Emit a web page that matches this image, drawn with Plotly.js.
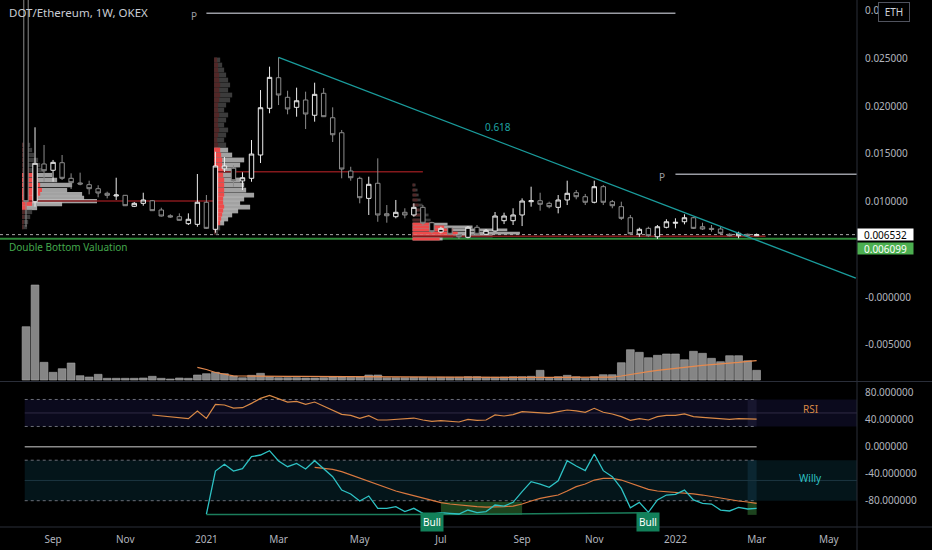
<!DOCTYPE html>
<html><head><meta charset="utf-8">
<script src="https://cdn.plot.ly/plotly-3.0.1.min.js"></script>
<style>html,body{margin:0;padding:0;background:#000;}#chart{width:932px;height:550px;}</style>
</head><body><div id="chart"></div>
<script>
// ---------- data ----------
const dates = ['2020-08-17','2020-08-24','2020-08-31','2020-09-07','2020-09-14','2020-09-21','2020-09-28','2020-10-05','2020-10-12','2020-10-19','2020-10-26','2020-11-02','2020-11-09','2020-11-16','2020-11-23','2020-11-30','2020-12-07','2020-12-14','2020-12-21','2020-12-28',
'2021-01-04','2021-01-11','2021-01-18','2021-01-25','2021-02-01','2021-02-08','2021-02-15','2021-02-22','2021-03-01','2021-03-08','2021-03-15','2021-03-22','2021-03-29','2021-04-05','2021-04-12','2021-04-19','2021-04-26','2021-05-03','2021-05-10','2021-05-17','2021-05-24','2021-05-31','2021-06-07','2021-06-14','2021-06-21','2021-06-28','2021-07-05','2021-07-12','2021-07-19','2021-07-26','2021-08-02','2021-08-09','2021-08-16','2021-08-23','2021-08-30','2021-09-06','2021-09-13','2021-09-20','2021-09-27','2021-10-04','2021-10-11','2021-10-18','2021-10-25','2021-11-01','2021-11-08','2021-11-15','2021-11-22','2021-11-29','2021-12-06','2021-12-13','2021-12-20','2021-12-27',
'2022-01-03','2022-01-10','2022-01-17','2022-01-24','2022-01-31','2022-02-07','2022-02-14','2022-02-21','2022-02-28','2022-03-07'];
const open = [0.03600,0.00998,0.01393,0.01327,0.01406,0.01243,0.01194,0.01176,0.01134,0.01086,0.01058,0.01065,0.00950,0.00981,0.01008,0.00911,0.00851,0.00841,0.00768,0.00761,0.00992,0.00709,0.01343,0.01348,0.01215,0.01243,0.01487,0.01976,0.02296,0.02091,0.01986,0.02063,0.01903,0.02133,0.01877,0.01720,0.01319,0.01243,0.01033,0.01191,0.00872,0.00841,0.00887,0.00859,0.00939,0.00778,0.00681,0.00726,0.00649,0.00625,0.00730,0.00657,0.00691,0.00799,0.00799,0.00859,0.00998,0.01008,0.00981,0.00939,0.01016,0.01092,0.01050,0.00992,0.01155,0.00998,0.00946,0.00830,0.00660,0.00719,0.00631,0.00730,0.00772,0.00788,0.00830,0.00736,0.00719,0.00712,0.00657,0.00642,0.00657,0.00642];
const high = [0.04000,0.01777,0.01592,0.01435,0.01487,0.01295,0.01302,0.01218,0.01170,0.01103,0.01249,0.01068,0.00995,0.01092,0.01016,0.00935,0.00866,0.00876,0.00876,0.01288,0.01068,0.01521,0.01466,0.01382,0.01306,0.01644,0.02167,0.02412,0.02510,0.02160,0.02192,0.02150,0.02244,0.02188,0.01986,0.01749,0.01364,0.01260,0.01260,0.01452,0.00963,0.01016,0.00929,0.00981,0.00963,0.00788,0.00736,0.00733,0.00657,0.00743,0.00754,0.00712,0.00890,0.00883,0.00929,0.01033,0.01155,0.01092,0.00998,0.01068,0.01218,0.01120,0.01079,0.01218,0.01173,0.01016,0.00998,0.00859,0.00726,0.00736,0.00754,0.00814,0.00824,0.00866,0.00838,0.00778,0.00754,0.00736,0.00667,0.00684,0.00663,0.00665];
const low = [0.00736,0.00946,0.01207,0.01207,0.01225,0.01131,0.01170,0.01075,0.01044,0.01033,0.01016,0.00953,0.00942,0.00956,0.00901,0.00843,0.00830,0.00799,0.00754,0.00736,0.00712,0.00673,0.01309,0.01155,0.01120,0.01207,0.01403,0.01924,0.02010,0.01913,0.01888,0.01759,0.01836,0.01885,0.01623,0.01243,0.01218,0.00981,0.00859,0.00788,0.00778,0.00824,0.00824,0.00841,0.00754,0.00667,0.00667,0.00649,0.00607,0.00615,0.00649,0.00649,0.00684,0.00764,0.00754,0.00743,0.00946,0.00904,0.00929,0.00876,0.00963,0.01023,0.00963,0.00981,0.00963,0.00929,0.00806,0.00649,0.00631,0.00631,0.00607,0.00719,0.00719,0.00761,0.00712,0.00702,0.00684,0.00649,0.00636,0.00615,0.00639,0.00639];
const close = [0.00998,0.01400,0.01322,0.01410,0.01243,0.01197,0.01183,0.01134,0.01089,0.01065,0.01068,0.00956,0.00981,0.01016,0.00904,0.00848,0.00838,0.00803,0.00814,0.00992,0.00719,0.01372,0.01372,0.01218,0.01249,0.01497,0.01982,0.02300,0.02115,0.01969,0.02055,0.01916,0.02122,0.01888,0.01699,0.01340,0.01249,0.01040,0.01180,0.00859,0.00851,0.00887,0.00859,0.00939,0.00772,0.00684,0.00719,0.00657,0.00631,0.00730,0.00657,0.00698,0.00848,0.00848,0.00859,0.01005,0.01008,0.00971,0.00946,0.01016,0.01086,0.01050,0.00992,0.01155,0.00992,0.00956,0.00824,0.00663,0.00709,0.00642,0.00736,0.00788,0.00782,0.00830,0.00719,0.00712,0.00709,0.00667,0.00642,0.00667,0.00646,0.006532];
const volume = [533,950,177,77,113,170,43,30,57,17,17,17,17,20,37,17,10,20,17,50,63,77,63,40,23,47,67,33,23,23,23,20,20,23,30,30,27,30,50,50,23,23,23,27,27,23,27,27,27,33,33,27,27,30,33,33,37,97,17,33,47,33,17,33,53,53,173,303,277,223,247,260,260,203,287,267,217,183,243,243,193,97];
const volMA = [127,105,75,57,42,40,38,37,37,36,36,36,36,36,36,36,35,35,34,34,33,33,33,33,32,32,31,30,29,28,27,27,26,26,26,25,25,25,26,26,26,26,27,27,27,27,28,40,56,73,84,96,107,118,130,140,147,154,160,168,176,186,193]; // from week 19
const rsi = [47,45.5,44.5,43.5,41.6,52.9,42,62.8,61.8,57.3,57.8,64.2,71.6,76.1,71.1,66.2,67.2,62.8,66.2,60.3,54.4,48,46.5,42,46,39.6,39.6,40.6,40.6,42.5,39.6,37.6,38.6,37.1,36.6,40.6,39.1,39.6,47,45.5,47.5,52,51.5,50.4,49.4,52,54.4,53,51,56.9,51,48.5,44.5,39.1,41.6,39.6,44.5,46.5,46.5,48.5,44.5,43.5,42.5,40.6,40.6,41.6,41,41]; // from week 14
const willy = [-100,-36,-26.1,-36,-32.5,-14.8,-12.3,-5.9,-21.2,-29.6,-24.7,-33,-20.7,-32,-44.4,-64.2,-70,-80.4,-73,-91.3,-91.3,-88.8,-96.2,-91.3,-98.7,-100,-97.7,-98.7,-99.7,-93.8,-97.7,-96.2,-86.4,-87.9,-82.4,-66.6,-51.8,-55.3,-60.2,-50.4,-20.7,-28.6,-35.5,-10.8,-35.5,-44.4,-61.7,-90.4,-82.4,-97.2,-78.9,-71.6,-70.6,-64.2,-78.9,-83.9,-84.9,-93.8,-95.2,-89.8,-92.3,-91.3]; // from week 20
const willySignal = [-30.6,-32,-33.5,-37,-41.9,-46.8,-50.8,-56.7,-61.7,-65.6,-69.1,-72.5,-76.5,-80,-82.9,-84.9,-86.4,-87.4,-88.9,-89.4,-89.4,-88.9,-87.9,-84.9,-80.4,-76.5,-74,-71.6,-65.6,-59.2,-55.3,-49.4,-46.9,-46.9,-49.4,-54.3,-58.3,-63.2,-65.6,-66.6,-67.6,-68.1,-70,-71.6,-74,-76.5,-78.9,-80.4,-81.9,-83.9]; // from week 32

const tickDates = ['2020-09-07','2020-11-02','2021-01-04','2021-03-01','2021-05-03','2021-07-05','2021-09-06','2021-11-01','2022-01-03','2022-03-07','2022-05-02'];
const tickText = ['Sep','Nov','2021','Mar','May','Jul','Sep','Nov','2022','Mar','May'];
const priceTicks = [0.03,0.025,0.02,0.015,0.01,0,-0.005];
const priceTickText = ['0.030000','0.025000','0.020000','0.015000','0.010000','-0.000000','-0.005000'];
const oscTicks = [80,40,0,-40,-80];
const oscTickText = ['80.000000','40.000000','0.000000','-40.000000','-80.000000'];

// volume profiles: price level, total length (weeks), red part length (weeks)
const prof1Start = '2020-08-14';
const prof1Price = [0.01592,0.01539,0.01487,0.01435,0.01382,0.01330,0.01277,0.01225,0.01173,0.01120,0.01078,0.01037,0.01005,0.00974,0.00932,0.00890,0.00838,0.00785,0.00733];
const prof1Total = [0.89,1.11,1.33,1.77,2.0,2.44,3.33,3.88,5.54,4.99,6.65,6.87,8.3,4.43,1.66,1.11,0.89,0.67,0.55];
const prof1Red = [0.3,0.35,0.4,0.5,0.6,0.8,1.33,1.77,2.0,2.2,2.0,1.77,1.55,1.1,0.5,0.3,0.25,0.2,0.15];
const prof2Start = '2021-01-10';
const prof2Price = [0.02482,0.02429,0.02377,0.02325,0.02272,0.02220,0.02167,0.02115,0.02063,0.02010,0.01958,0.01906,0.01853,0.01801,0.01749,0.01696,0.01644,0.01592,0.01539,0.01487,0.01435,0.01382,0.01330,0.01277,0.01225,0.01173,0.01120,0.01068,0.01026,0.00984,0.00942,0.00901,0.00859,0.00817,0.00775,0.00723,0.00681];
const prof2Total = [0.67,0.89,1.11,1.33,1.55,1.77,1.55,2.0,1.77,1.33,1.11,1.55,1.33,1.11,1.55,1.33,1.11,1.33,1.55,2.0,3.33,2.88,2.44,2.22,2.88,3.33,3.55,4.43,3.33,2.88,3.99,2.66,2.0,1.55,1.11,0.67,0.44];
const prof2Red = [0.33,0.44,0.44,0.55,0.55,0.67,0.55,0.67,0.55,0.44,0.44,0.55,0.44,0.44,0.55,0.44,0.33,0.44,0.67,0.78,0.89,0.89,1.0,1.0,1.11,1.11,1.11,1.11,1.0,1.0,1.11,1.0,0.89,0.78,0.67,0.33,0.22];
const prof3Start = '2021-06-13';
const prof3Price = [0.01173,0.01120,0.01068,0.01016,0.00963,0.00911,0.00859,0.00806,0.00764,0.00733,0.00702,0.00670,0.00639,0.00607];
const prof3Total = [0.33,0.55,0.67,0.89,1.11,1.33,1.77,2.0,3.88,6.65,10.5,11.9,8.87,3.33];
const prof3Red = [0.22,0.33,0.44,0.55,0.67,0.78,1.0,1.11,2.2,3.5,4.5,5.0,4.5,3.0];

const lastPrice = 0.006532;
const doubleBottom = 0.006099;
const trendDates = ['2021-03-01','2022-05-23'];
const trendPrices = [0.02510,0.00197];
const pLevel1 = 0.02971, pLevel2 = 0.01285;
const pocLevels = [0.01005,0.01312,0.00636];
const pocFrom = ['2020-08-14','2021-01-10','2021-06-13'];
const pocTo = ['2021-01-10','2021-06-21','2022-03-14'];
const bullDates = ['2021-06-28','2021-12-13'];
const divDates = ['2021-01-04','2021-06-28','2021-12-13'];
const divValues = [-100.5,-100.5,-98];

// ---------- layout helpers ----------
const xRange = ['2020-07-27 19:40','2022-05-23 21:36'];
const W = 7*864e5;
const PW = 857, PH = 527;
const px = v => v/PW, py = v => (PH - v)/PH;
const shapes = [];
function profile(start, prices, totals, reds, rowH, vaLo, vaHi){
  const t0 = Date.parse(start + 'T00:00:00Z');
  prices.forEach((p,i)=>{
    const va = p >= vaLo && p <= vaHi;
    shapes.push({type:'rect',xref:'x',yref:'y',layer:'below',x0:t0,x1:t0+totals[i]*W,y0:p-rowH/2,y1:p+rowH/2,
      fillcolor: va ? 'rgba(190,190,190,0.85)' : '#3b3b3b', line:{width:0}});
    shapes.push({type:'rect',xref:'x',yref:'y',layer:'below',x0:t0,x1:t0+reds[i]*W,y0:p-rowH/2,y1:p+rowH/2,
      fillcolor: va ? '#ee4a4a' : '#512727', line:{width:0}});
  });
}
profile(prof1Start, prof1Price, prof1Total, prof1Red, 0.00045, 0.0092, 0.0128);
profile(prof2Start, prof2Price, prof2Total, prof2Red, 0.0005, 0.0077, 0.0154);
profile(prof3Start, prof3Price, prof3Total, prof3Red, 0.00029, 0.0060, 0.0078);

// POC lines
pocLevels.forEach((lv,i)=>shapes.push({type:'line',xref:'x',yref:'y',layer:'below',x0:pocFrom[i],x1:pocTo[i],y0:lv,y1:lv,line:{color:'#84191c',width:1.5}}));
// P lines
shapes.push({type:'line',xref:'x',yref:'y',layer:'below',x0:'2021-01-04',x1:'2022-01-03',y0:pLevel1,y1:pLevel1,line:{color:'#9a9ca3',width:1.5}});
shapes.push({type:'line',xref:'x',yref:'y',layer:'below',x0:'2022-01-03',x1:xRange[1],y0:pLevel2,y1:pLevel2,line:{color:'#9a9ca3',width:1.5}});
// last price dotted & double bottom line
shapes.push({type:'line',xref:'paper',yref:'y',layer:'below',x0:0,x1:1,y0:lastPrice,y1:lastPrice,line:{color:'#a8a8a8',width:1,dash:'dot'}});
shapes.push({type:'line',xref:'paper',yref:'y',layer:'below',x0:0,x1:1,y0:doubleBottom,y1:doubleBottom,line:{color:'#2f8a3a',width:2}});
// trendline
shapes.push({type:'line',xref:'x',yref:'y',x0:trendDates[0],x1:trendDates[1],y0:trendPrices[0],y1:trendPrices[1],line:{color:'#1a9c9c',width:1.3}});

// oscillator pane backgrounds
const bandStart = '2020-08-16', lastBar = '2022-03-07', prevBar = '2022-02-28';
shapes.push({type:'rect',xref:'x2',yref:'y2',layer:'below',x0:bandStart,x1:xRange[1],y0:30,y1:70,fillcolor:'#0b0a1d',line:{width:0}});
shapes.push({type:'rect',xref:'x2',yref:'y2',layer:'below',x0:bandStart,x1:xRange[1],y0:-80,y1:-20,fillcolor:'#04151a',line:{width:0}});
shapes.push({type:'rect',xref:'x2',yref:'y2',layer:'below',x0:prevBar,x1:lastBar,y0:30,y1:70,fillcolor:'#17162e',line:{width:0}});
shapes.push({type:'rect',xref:'x2',yref:'y2',layer:'below',x0:prevBar,x1:lastBar,y0:-80,y1:-20,fillcolor:'#0b2631',line:{width:0}});
shapes.push({type:'rect',xref:'x2',yref:'y2',layer:'below',x0:'2021-07-05',x1:'2021-09-06',y0:-101,y1:-81.5,fillcolor:'rgba(76,175,80,0.38)',line:{width:0}});
shapes.push({type:'rect',xref:'x2',yref:'y2',layer:'below',x0:prevBar,x1:lastBar,y0:-101,y1:-81.5,fillcolor:'rgba(76,175,80,0.38)',line:{width:0}});
[50,-50].forEach(v=>shapes.push({type:'line',xref:'x2',yref:'y2',layer:'below',x0:bandStart,x1:xRange[1],y0:v,y1:v,line:{color: v>0?'#2e2b45':'#1c3640',width:1}}));
[70,30,-20,-80].forEach(v=>shapes.push({type:'line',xref:'x2',yref:'y2',layer:'below',x0:bandStart,x1:lastBar,y0:v,y1:v,line:{color:'#6b6e78',width:1,dash:'dot'}}));
shapes.push({type:'line',xref:'x2',yref:'y2',layer:'below',x0:bandStart,x1:lastBar,y0:0,y1:0,line:{color:'#8a8a8a',width:1.5}});
// pane frame lines
shapes.push({type:'line',xref:'paper',yref:'paper',x0:0,x1:932/PW,y0:py(381.5),y1:py(381.5),line:{color:'#2a2e39',width:1}});
shapes.push({type:'line',xref:'paper',yref:'paper',x0:0,x1:932/PW,y0:0,y1:0,line:{color:'#2a2e39',width:1}});
shapes.push({type:'line',xref:'paper',yref:'paper',x0:1,x1:1,y0:-23/PH,y1:1,line:{color:'#2a2e39',width:1}});

const font = 'Noto Sans, sans-serif';
const ann = [];
ann.push({xref:'paper',yref:'paper',x:px(7),y:py(13),xanchor:'left',yanchor:'middle',text:'DOT/Ethereum, 1W, OKEX',showarrow:false,font:{size:11.5,color:'#c9ccd3',family:font}});
ann.push({xref:'paper',yref:'paper',x:px(194),y:py(16),xanchor:'center',yanchor:'middle',text:'P',showarrow:false,font:{size:10,color:'#9a9ca3',family:font}});
ann.push({xref:'paper',yref:'paper',x:px(662),y:py(177),xanchor:'center',yanchor:'middle',text:'P',showarrow:false,font:{size:10,color:'#9a9ca3',family:font}});
ann.push({xref:'paper',yref:'paper',x:px(498),y:py(127),xanchor:'center',yanchor:'middle',text:'0.618',showarrow:false,font:{size:10,color:'#1fa5a5',family:font}});
ann.push({xref:'paper',yref:'paper',x:px(7),y:py(247),xanchor:'left',yanchor:'middle',text:'Double Bottom Valuation',showarrow:false,font:{size:10,color:'#43a84d',family:font}});
ann.push({xref:'paper',yref:'paper',x:px(810),y:py(409),xanchor:'center',yanchor:'middle',text:'RSI',showarrow:false,font:{size:10,color:'#d98946',family:font}});
ann.push({xref:'paper',yref:'paper',x:px(810),y:py(478),xanchor:'center',yanchor:'middle',text:'Willy',showarrow:false,font:{size:10,color:'#2ec2c4',family:font}});
bullDates.forEach(d=>ann.push({xref:'x2',yref:'y2',x:d,y:-111.5,xanchor:'center',yanchor:'middle',text:'Bull',showarrow:false,bgcolor:'#12805a',borderpad:2,font:{size:10,color:'#ffffff',family:font}}));
ann.push({xref:'paper',yref:'paper',x:px(894),y:py(11.5),xanchor:'center',yanchor:'middle',text:'ETH',showarrow:false,bgcolor:'#000000',bordercolor:'#50535e',borderwidth:1,borderpad:2,width:26,font:{size:10,color:'#d1d4dc',family:font}});
ann.push({xref:'paper',yref:'y',x:1,y:lastPrice,xanchor:'left',yanchor:'middle',text:String(lastPrice),showarrow:false,bgcolor:'#ffffff',width:55,height:11,borderpad:0,font:{size:10,color:'#000000',family:font}});
ann.push({xref:'paper',yref:'y',x:1,y:doubleBottom,yshift:-10,xanchor:'left',yanchor:'middle',text:String(doubleBottom),showarrow:false,bgcolor:'#4caf50',width:55,height:11,borderpad:0,font:{size:10,color:'#ffffff',family:font}});

const traces = [
  {type:'bar',x:dates,y:volume,xaxis:'x',yaxis:'y3',width:0.86*W,marker:{color:'rgba(140,140,140,0.95)',line:{color:'#a9a9a9',width:0.6}},hoverinfo:'skip'},
  {type:'scatter',mode:'lines',x:dates.slice(19),y:volMA,xaxis:'x',yaxis:'y3',line:{color:'#e68a4f',width:1.2},hoverinfo:'skip'},
  {type:'candlestick',x:dates,open:open,high:high,low:low,close:close,xaxis:'x',yaxis:'y',
    increasing:{line:{color:'#ececec',width:1},fillcolor:'#000000'},
    decreasing:{line:{color:'#8c8c8c',width:1},fillcolor:'#000000'},whiskerwidth:0,hoverinfo:'skip'},
  {type:'scatter',mode:'lines',x:dates.slice(14),y:rsi,xaxis:'x2',yaxis:'y2',line:{color:'#d98946',width:1.2},hoverinfo:'skip'},
  {type:'scatter',mode:'lines',x:divDates,y:divValues,xaxis:'x2',yaxis:'y2',line:{color:'#1b7d5b',width:1.5},hoverinfo:'skip'},
  {type:'scatter',mode:'lines',x:dates.slice(32),y:willySignal,xaxis:'x2',yaxis:'y2',line:{color:'#d9783f',width:1.2},hoverinfo:'skip'},
  {type:'scatter',mode:'lines',x:dates.slice(20),y:willy,xaxis:'x2',yaxis:'y2',line:{color:'#2ec2c4',width:1.3},hoverinfo:'skip'}
];

const layout = {
  width:932,height:550,paper_bgcolor:'#000000',plot_bgcolor:'#000000',
  margin:{l:0,r:75,t:0,b:23},showlegend:false,
  font:{family:font,color:'#b2b5be',size:10},
  xaxis:{type:'date',range:xRange,anchor:'y',showticklabels:false,showgrid:false,zeroline:false,showline:false,rangeslider:{visible:false},fixedrange:true},
  xaxis2:{type:'date',range:xRange,anchor:'y2',tickmode:'array',tickvals:tickDates,ticktext:tickText,showgrid:false,zeroline:false,showline:false,ticks:'',ticklabelstandoff:5,tickfont:{size:10,color:'#b2b5be',family:font}},
  yaxis:{domain:[0.277,1],range:[-0.008796,0.031099],side:'right',anchor:'x',tickmode:'array',tickvals:priceTicks,ticktext:priceTickText,showgrid:false,zeroline:false,showline:false,ticks:'',ticklabelstandoff:7,tickfont:{size:10,color:'#b2b5be',family:font}},
  yaxis3:{overlaying:'y',anchor:'x',range:[-10,3800],visible:false,showgrid:false,zeroline:false},
  yaxis2:{domain:[0,0.2751],range:[-118.96,95.85],side:'right',anchor:'x2',tickmode:'array',tickvals:oscTicks,ticktext:oscTickText,showgrid:false,zeroline:false,showline:false,ticks:'',ticklabelstandoff:7,tickfont:{size:10,color:'#b2b5be',family:font}},
  shapes:shapes,annotations:ann
};
Plotly.newPlot('chart',traces,layout,{staticPlot:true,displayModeBar:false});
</script></body></html>
